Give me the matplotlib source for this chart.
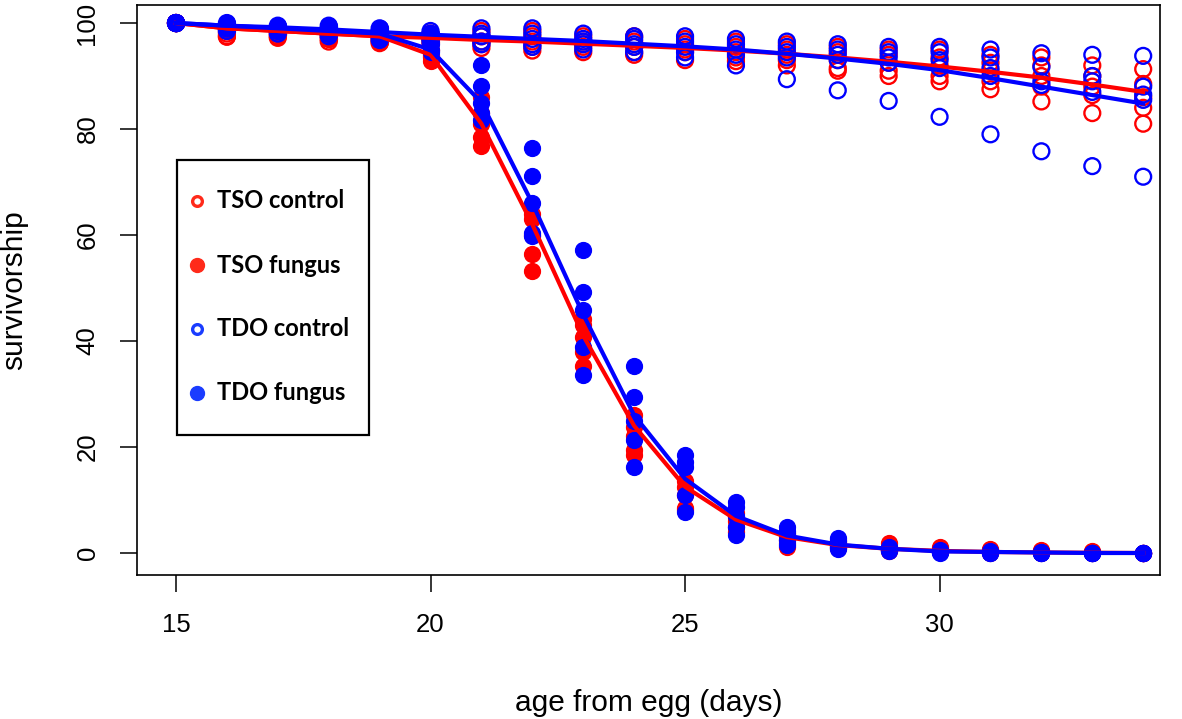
import matplotlib
matplotlib.use("Agg")
import matplotlib.pyplot as plt
from matplotlib.lines import Line2D
from matplotlib.patches import Rectangle
import numpy as np

days = list(range(15, 35))

# replicate survivorship values per day (5 replicates)
tso_control = [
    [100, 100, 100, 100, 100],
    [99, 98.5, 98, 97.5, 97.4],
    [99, 98.5, 98, 97.5, 97.2],
    [98.5, 98, 97.5, 97, 96.5],
    [98, 97.5, 97, 96.5, 96.2],
    [98, 97.5, 97, 96.5, 96],
    [98.5, 97.5, 96.5, 96, 95.3],
    [98.5, 97.5, 96.5, 95.5, 94.8],
    [97.5, 96.5, 96, 95.5, 94.5],
    [97.5, 96.5, 95.5, 94.5, 94],
    [97, 96, 95, 94.5, 93],
    [96.5, 95.5, 94.5, 93.5, 92.8],
    [96, 95, 94, 93, 92],
    [95.5, 94.5, 93, 91.5, 91],
    [95, 94, 92.5, 91, 90],
    [95, 93.5, 92, 90, 89],
    [94, 92.5, 91, 89, 87.5],
    [93.5, 92, 90, 88, 85.2],
    [92, 90, 88, 86.4, 83],
    [91.3, 88.5, 86, 84, 81],
]
tdo_control = [
    [100, 100, 100, 100, 100],
    [100, 99.5, 99, 99, 98.5],
    [99.5, 99, 99, 98.5, 98],
    [99.5, 99, 98.5, 98, 97.5],
    [99, 98.5, 98, 97.5, 96.8],
    [98.5, 98, 97.5, 97, 96.5],
    [99, 98, 97.5, 96.5, 96],
    [99, 98, 97, 96, 95.5],
    [98, 97, 96.5, 96, 95],
    [97.5, 97, 96, 95.5, 94.5],
    [97.5, 96.5, 95.5, 94.5, 93.5],
    [97, 96, 95, 94, 92],
    [96.5, 95.5, 94.5, 93.5, 89.4],
    [96, 95, 94, 93, 87.3],
    [95.5, 94.5, 93.5, 92.5, 85.3],
    [95.5, 94.5, 93, 91.5, 82.3],
    [95, 93.5, 91.5, 90, 79],
    [94.3, 91.7, 89, 88.3, 75.8],
    [94, 90, 89, 87, 73],
    [93.8, 88, 86.5, 85.5, 71],
]
tso_fungus = [
    [100, 100, 100, 100, 100],
    [99.5, 99.5, 99, 99, 98.5],
    [99, 98.5, 98.5, 98, 98],
    [98.5, 98.5, 98, 97.5, 97],
    [98.5, 98, 97.5, 97, 96.5],
    [96.5, 95, 94, 93.5, 92.8],
    [86, 83, 81, 78.5, 76.8],
    [64, 63, 60, 56.5, 53.2],
    [44.2, 43, 40.8, 38, 35.3],
    [26, 23.8, 22, 19.4, 18.5],
    [13.5, 12.5, 11, 8.5, 8.2],
    [7.5, 6.8, 6, 5, 4],
    [3.8, 3.2, 2.5, 1.8, 1.2],
    [2.5, 2, 1.6, 1.2, 1],
    [1.9, 1.2, 0.8, 0.5, 0.3],
    [1.1, 0.8, 0.5, 0.3, 0.1],
    [0.8, 0.5, 0.3, 0.2, 0],
    [0.5, 0.3, 0.2, 0.1, 0],
    [0.3, 0.2, 0.1, 0, 0],
    [0, 0, 0, 0, 0],
]
tdo_fungus = [
    [100, 100, 100, 100, 100],
    [100, 99.5, 99.5, 99, 99],
    [99.5, 99.5, 99, 99, 98.5],
    [99.5, 99, 99, 98.5, 98],
    [99, 98.5, 98, 97.5, 97],
    [98, 97, 96, 95, 94.5],
    [92, 88.2, 85, 83, 81.7],
    [76.5, 71.2, 66, 60.4, 59.8],
    [57.2, 49.2, 45.8, 38.9, 33.5],
    [35.3, 29.5, 25, 21.4, 16.2],
    [18.5, 17.2, 16.2, 10.9, 7.8],
    [9.7, 8.7, 7, 4.9, 3.4],
    [4.9, 4.2, 3.5, 2.5, 1.6],
    [2.8, 2.2, 1.6, 1.2, 0.8],
    [1.2, 1, 0.8, 0.5, 0.3],
    [0.5, 0.3, 0.2, 0.1, 0],
    [0.3, 0.2, 0.1, 0, 0],
    [0.2, 0.1, 0, 0, 0],
    [0, 0, 0, 0, 0],
    [0, 0, 0, 0, 0],
]

# fitted survivorship curves
tso_control_fit = [100, 99.0, 98.5, 98.0, 97.5, 97.2, 96.8, 96.5, 96.1, 95.7,
                   95.3, 94.8, 94.2, 93.5, 92.7, 91.8, 90.8, 89.7, 88.4, 87.0]
tdo_control_fit = [100, 99.5, 99.2, 98.8, 98.3, 97.8, 97.4, 97.0, 96.6, 96.1,
                   95.6, 95.0, 94.2, 93.3, 92.3, 91.1, 89.6, 88.0, 86.4, 84.8]
tso_fungus_fit = [100, 99.0, 98.5, 98.0, 97.5, 94.0, 81.0, 62.0, 41.0, 24.0,
                  12.5, 6.3, 3.0, 1.5, 0.8, 0.4, 0.2, 0.1, 0.05, 0.0]
tdo_fungus_fit = [100, 99.5, 99.0, 98.5, 98.0, 95.0, 85.0, 66.0, 45.0, 26.0,
                  14.0, 7.0, 3.3, 1.6, 0.8, 0.3, 0.2, 0.1, 0.0, 0.0]

legend_labels = ["TSO control", "TSO fungus", "TDO control", "TDO fungus"]
xticks = [15, 20, 25, 30]
yticks = [0, 20, 40, 60, 80, 100]

RED = "#ff0000"
BLUE = "#0000ff"

W, H = 1182, 719
fig = plt.figure(figsize=(W / 100, H / 100), dpi=100)
ax = fig.add_axes([137 / W, 1 - 575 / H, (1160 - 137) / W, (575 - 5) / H])

def scatter_group(vals, color, filled):
    xs, ys = [], []
    for d, reps in zip(days, vals):
        for v in reps:
            xs.append(d)
            ys.append(v)
    if filled:
        ax.scatter(xs, ys, s=130, c=color, edgecolors=color, linewidths=1.0, zorder=3)
    else:
        ax.scatter(xs, ys, s=130, facecolors="none", edgecolors=color, linewidths=1.7, zorder=3)

scatter_group(tso_control, RED, False)
scatter_group(tso_fungus, RED, True)
scatter_group(tdo_control, BLUE, False)
scatter_group(tdo_fungus, BLUE, True)

ax.plot(days, tso_control_fit, color=RED, lw=3, zorder=4)
ax.plot(days, tso_fungus_fit, color=RED, lw=3, zorder=4)
ax.plot(days, tdo_control_fit, color=BLUE, lw=3, zorder=4)
ax.plot(days, tdo_fungus_fit, color=BLUE, lw=3, zorder=4)

ax.set_xlim(14.234, 34.33)
ax.set_ylim(-4.15, 103.4)
ax.set_xticks(xticks)
ax.set_yticks(yticks)

font = "Liberation Sans"
ax.set_xticklabels([str(t) for t in xticks], fontsize=18.5, family=font)
ax.set_yticklabels([str(t) for t in yticks], fontsize=18.5, family=font,
                   rotation=90, va="center")
ax.tick_params(axis="both", direction="out", length=12, width=1.1, pad=15)
for sp in ax.spines.values():
    sp.set_linewidth(1.2)

ax.set_xlabel("age from egg (days)", fontsize=21.5, family=font)
ax.set_ylabel("survivorship", fontsize=21.5, family=font)
ax.xaxis.set_label_coords(0.5, (575 - 703) / 570)
ax.xaxis.label.set_va("center")
ax.yaxis.set_label_coords((14 - 137) / 1023, 0.5)
ax.yaxis.label.set_va("center")

# legend box drawn manually
def fx(px):
    return px / W

def fy(py):
    return 1 - py / H

fig.add_artist(Rectangle((fx(177), fy(435)), fx(369) - fx(177), fy(160) - fy(435),
                         transform=fig.transFigure, facecolor="white",
                         edgecolor="black", linewidth=1.6, zorder=10))
leg_colors = ["#ff2a1a", "#ff2a1a", "#1a3cff", "#1a3cff"]
leg_filled = [False, True, False, True]
rows = [201, 265, 329, 393]
for lab, col, filled, ry in zip(legend_labels, leg_colors, leg_filled, rows):
    if filled:
        m = Line2D([fx(197)], [fy(ry)], marker="o", markersize=10, color=col,
                   markerfacecolor=col, markeredgecolor=col, linestyle="none",
                   transform=fig.transFigure, zorder=11)
    else:
        m = Line2D([fx(197)], [fy(ry)], marker="o", markersize=7, color=col,
                   markerfacecolor="none", markeredgecolor=col, markeredgewidth=2.4,
                   linestyle="none", transform=fig.transFigure, zorder=11)
    fig.add_artist(m)
    fig.text(fx(217), fy(ry), lab, fontsize=17, fontweight="bold",
             family="Lato", va="center", ha="left", zorder=12)

fig.savefig("out.png", dpi=100)
